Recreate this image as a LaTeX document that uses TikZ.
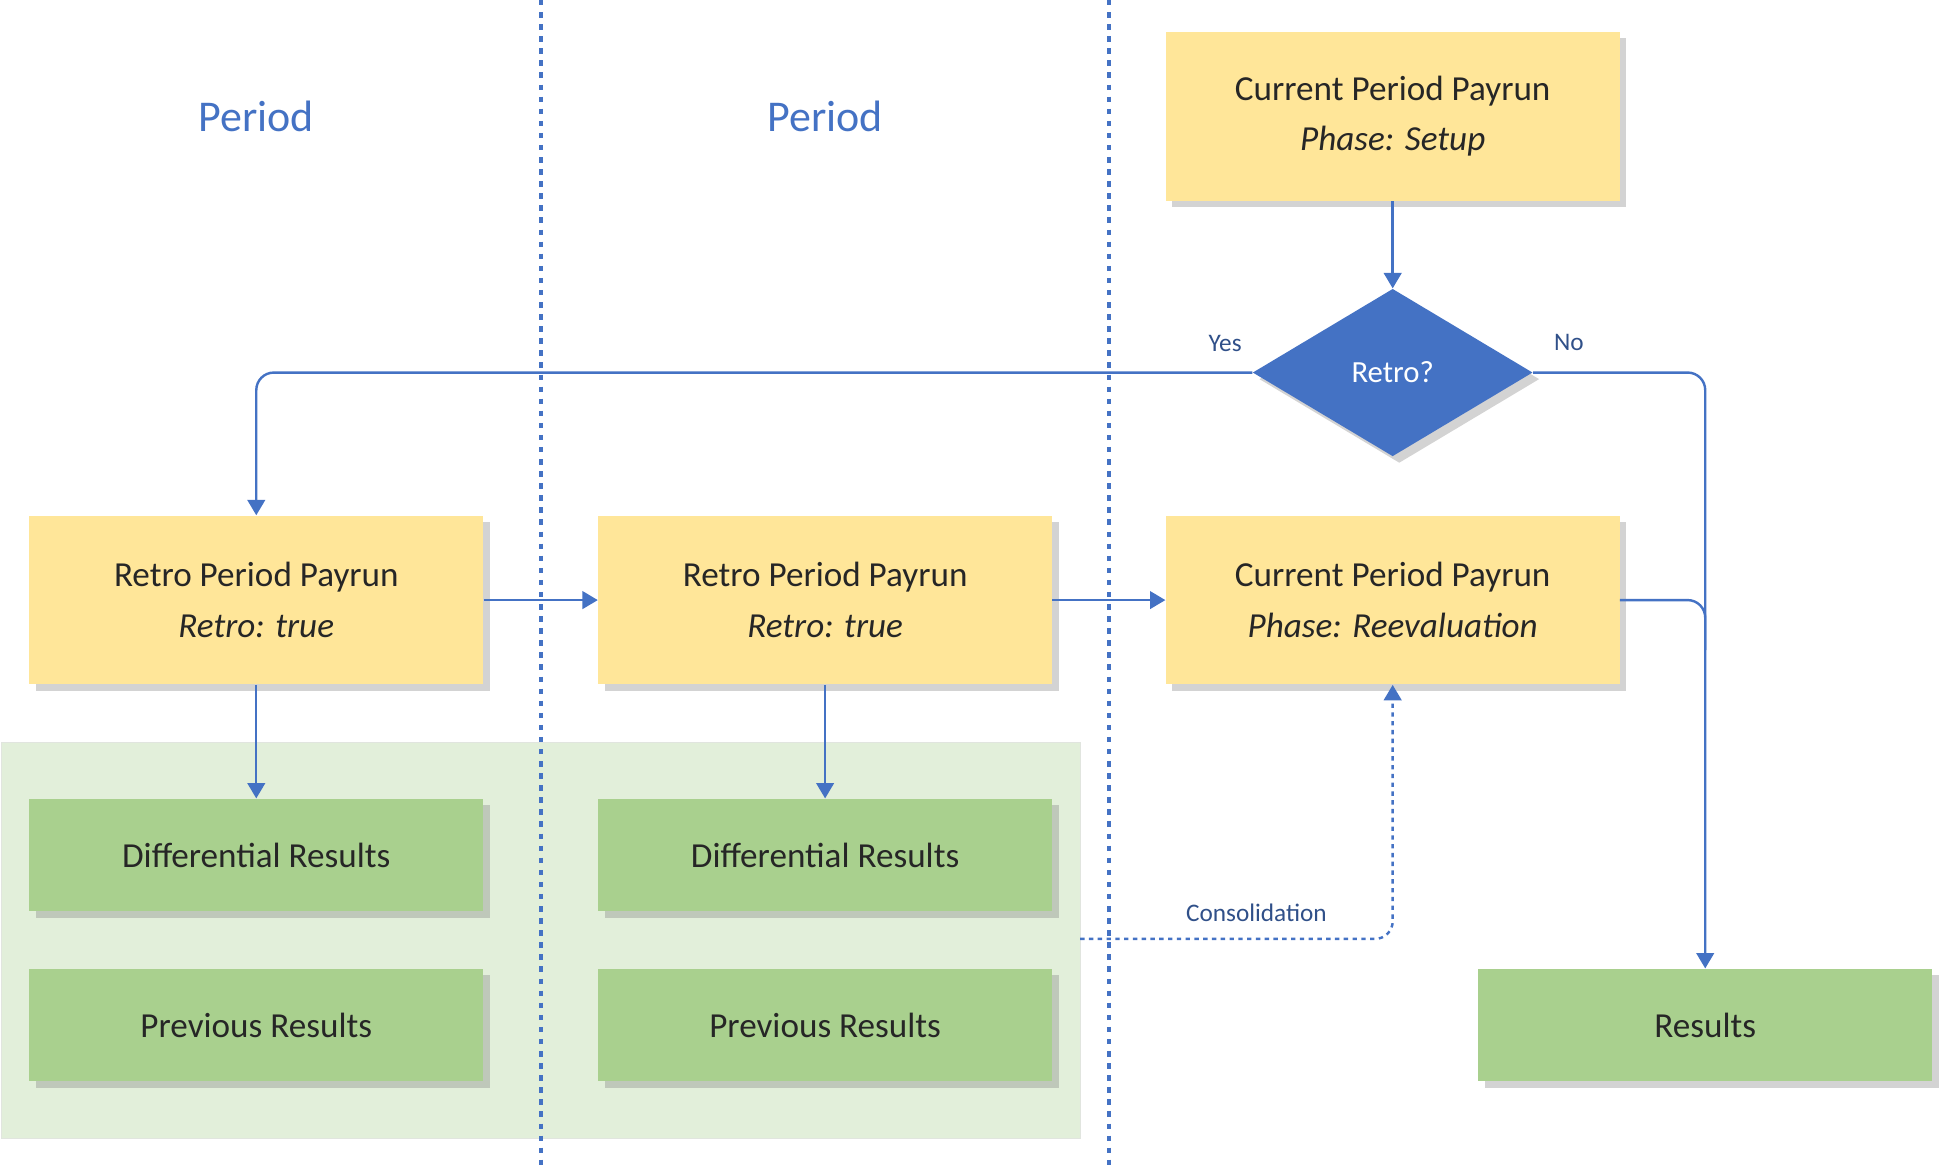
\documentclass[tikz,border=0pt]{standalone}
\usepackage{fontspec}
\setmainfont{Carlito}
\usetikzlibrary{shapes.geometric, arrows.meta, positioning, shadows}
\definecolor{flowBlue}{RGB}{68, 114, 196}
\definecolor{payrunColor}{RGB}{255, 230, 153}
\definecolor{resultColor}{RGB}{169, 208, 142}
\definecolor{groupColor}{RGB}{226, 239, 218}
\definecolor{textColor}{RGB}{38, 38, 38}

\begin{document}
\begin{tikzpicture}[x=0.02cm, y=-0.02cm,
    box/.style={draw=none, minimum width=7.26cm, text=textColor, align=center,
        font=\fontsize{16}{23}\selectfont, drop shadow={shadow xshift=3pt, shadow yshift=-3pt, opacity=0.35}},
    payrun/.style={box, fill=payrunColor, minimum height=2.7cm},
    result/.style={box, fill=resultColor, minimum height=1.8cm},
    flow/.style={flowBlue, line width=1.1pt, rounded corners=8pt},
    arrow/.style={flow, -{Triangle[length=7pt, width=8pt]}},
    lbl/.style={text=flowBlue!70!black, font=\fontsize{11.5}{13}\selectfont}]
    \useasboundingbox (0,0) rectangle (1563,940);

    % Retro group background
    \fill[groupColor] (1,594) rectangle (864,911);
    \draw[groupColor!80!black!40, line width=0.4pt] (1,594) rectangle (864,911);

    % Period separators
    \draw[flowBlue, line width=1.8pt, dash pattern=on 2.5pt off 3pt] (433,0) -- (433,935);
    \draw[flowBlue, line width=1.8pt, dash pattern=on 2.5pt off 3pt] (887,0) -- (887,935);
    \node[text=flowBlue, font=\fontsize{20}{24}\selectfont] (period1) at (205,93) {Period};
    \node[text=flowBlue, font=\fontsize{20}{24}\selectfont] (period2) at (660,93) {Period};

    % Payruns
    \node[payrun] (setup) at (1114,93) {Current Period Payrun\\\textit{Phase: Setup}};
    \node[diamond, fill=flowBlue, text=white, minimum width=4.48cm, minimum height=2.68cm,
        inner sep=0pt, aspect=1.67, font=\fontsize{14}{16}\selectfont,
        drop shadow={shadow xshift=3pt, shadow yshift=-3pt, opacity=0.35}] (retro) at (1114,298) {Retro?};
    \node[payrun] (retro1) at (205,480) {Retro Period Payrun\\\textit{Retro: true}};
    \node[payrun] (retro2) at (660,480) {Retro Period Payrun\\\textit{Retro: true}};
    \node[payrun] (reeval) at (1114,480) {Current Period Payrun\\\textit{Phase: Reevaluation}};

    % Results
    \node[result] (diff1) at (205,684) {Differential Results};
    \node[result] (prev1) at (205,820) {Previous Results};
    \node[result] (diff2) at (660,684) {Differential Results};
    \node[result] (prev2) at (660,820) {Previous Results};
    \node[result] (results) at (1364,820) {Results};

    % Connectors
    \coordinate (consol) at (864,751);
    \draw[arrow] (setup) -- (retro);
    \draw[arrow] (retro.west) -| (retro1.north);
    \draw[arrow] (retro.east) -| (results.north);
    \draw[flow] (reeval.east) -| (1364,520);
    \draw[arrow] (retro1) -- (retro2);
    \draw[arrow] (retro2) -- (reeval);
    \draw[arrow] (retro1) -- (diff1);
    \draw[arrow] (retro2) -- (diff2);
    \draw[arrow, dash pattern=on 2pt off 2pt] (consol) -| (reeval.south);

    % Labels
    \node[lbl] (yes) at (980,275) {Yes};
    \node[lbl] (no) at (1255,274) {No};
    \node[lbl] (consolLbl) at (1005,730) {Consolidation};
\end{tikzpicture}
\end{document}
